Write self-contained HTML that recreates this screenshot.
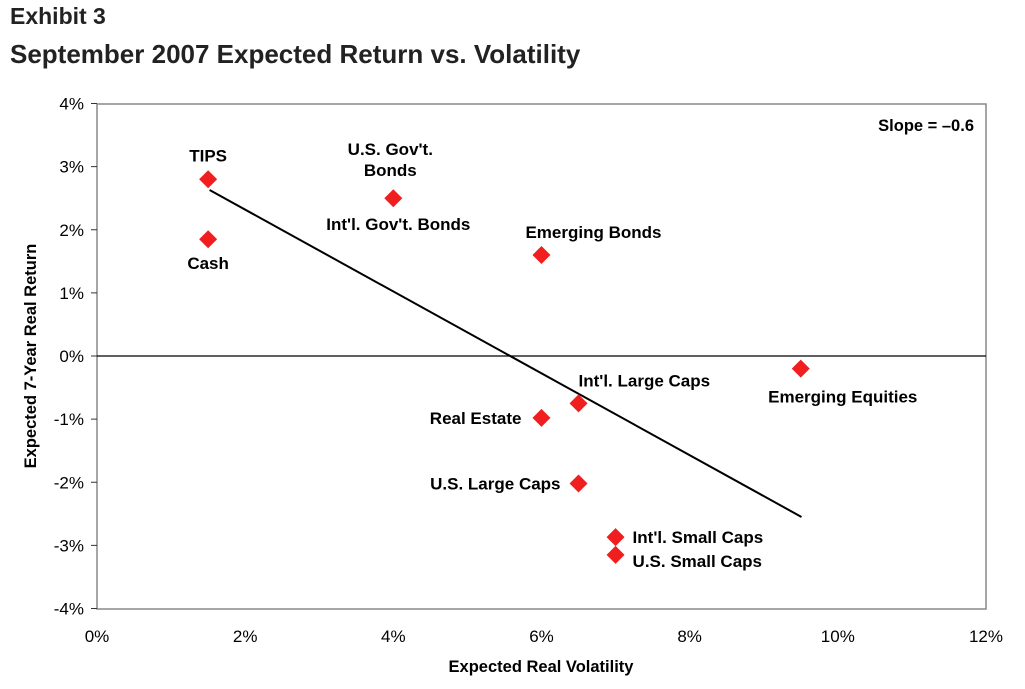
<!DOCTYPE html>
<html><head><meta charset="utf-8"><style>
body{margin:0;background:#fff;font-family:"Liberation Sans",Arial,sans-serif}
svg text{font-family:"Liberation Sans",Arial,sans-serif}
</style></head><body>
<svg width="1025" height="684" xmlns="http://www.w3.org/2000/svg">
<text x="10" y="24" font-size="23" font-weight="bold" fill="#222">Exhibit 3</text>
<text x="10" y="63" font-size="26" font-weight="bold" fill="#222">September 2007 Expected Return vs. Volatility</text>
<rect x="97" y="104" width="889" height="505" fill="none" stroke="#888" stroke-width="1.5"/>
<g id="axes"></g>
<g id="marks"></g>
<text x="974" y="131" font-size="16.5" font-weight="bold" text-anchor="end">Slope = –0.6</text>
<text x="541" y="672" font-size="16.5" font-weight="bold" text-anchor="middle">Expected Real Volatility</text>
<text transform="translate(36,356) rotate(-90)" font-size="16.5" font-weight="bold" text-anchor="middle">Expected 7-Year Real Return</text>
</svg>
<script>
const names=["TIPS","Cash","U.S. Gov't. Bonds","Emerging Bonds","Emerging Equities","Int'l. Large Caps","Real Estate","U.S. Large Caps","Int'l. Small Caps","U.S. Small Caps"];
const vols=[1.5,1.5,4.0,6.0,9.5,6.5,6.0,6.5,7.0,7.0];
const rets=[2.8,1.85,2.5,1.6,-0.2,-0.75,-0.98,-2.02,-2.87,-3.15];
const xTicks=[0,2,4,6,8,10,12];
const yTicks=[-4,-3,-2,-1,0,1,2,3,4];
const fitX=[1.52,9.51];
const fitY=[2.63,-2.55];
const NS="http://www.w3.org/2000/svg";
const X=v=>97+v*74.08, Y=v=>356-v*63.125;
function mk(tag,at,parent,txt){const e=document.createElementNS(NS,tag);for(const k in at)e.setAttribute(k,at[k]);if(txt!==undefined)e.textContent=txt;parent.appendChild(e);return e;}
const ax=document.getElementById('axes'), mg=document.getElementById('marks');
xTicks.forEach(t=>{const e=mk('text',{x:X(t),y:642,'font-size':17,'text-anchor':'middle'},ax,t+'%');

});
yTicks.forEach(t=>{const e=mk('text',{x:84,y:Y(t)+6,'font-size':17,'text-anchor':'end'},ax,t+'%');


const l=mk('line',{x1:91,x2:97,y1:Y(t),y2:Y(t),stroke:'#333'},ax);

});
const zl=mk('line',{x1:97,x2:986,y1:Y(0),y2:Y(0),stroke:'#000','stroke-width':1.2},ax);


const fl=mk('line',{x1:X(fitX[0]),y1:Y(fitY[0]),x2:X(fitX[1]),y2:Y(fitY[1]),stroke:'#000','stroke-width':2},mg);


const FS=17;
const lab=[[0,-18,'middle'],[0,30,'middle'],[0,0,'middle'],[52,-17,'middle'],[42,34,'middle'],[0,-17,'start'],[-20,6,'end'],[-18,6,'end'],[17,6,'start'],[17,12,'start']];
vols.forEach((v,i)=>{const cx=X(v),cy=Y(rets[i]);
const p=mk('polygon',{points:`${cx},${cy-9} ${cx+9},${cy} ${cx},${cy+9} ${cx-9},${cy}`,fill:'#f01e1e'},mg);


const [dx,dy,an]=lab[i];
if(i===2){
 const a=mk('text',{x:cx-3,y:cy-43,'font-size':FS,'font-weight':'bold','text-anchor':'middle'},mg,"U.S. Gov't.");
 
 
 const b=mk('text',{x:cx-3,y:cy-22,'font-size':FS,'font-weight':'bold','text-anchor':'middle'},mg,"Bonds");
 
 
 const c=mk('text',{x:cx+5,y:cy+32,'font-size':FS,'font-weight':'bold','text-anchor':'middle'},mg,"Int'l. Gov't. Bonds");
 
 
} else {
 let x=cx+dx; if(i===5) x=cx;
 const t=mk('text',{x:x,y:cy+dy,'font-size':FS,'font-weight':'bold','text-anchor':an},mg,names[i]);
 
 
}});
</script>
</body></html>
